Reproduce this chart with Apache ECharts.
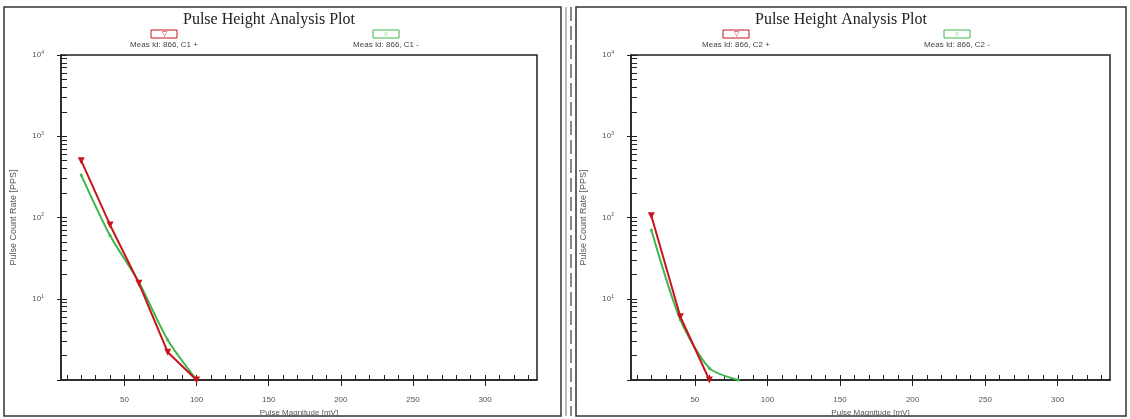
<!DOCTYPE html>
<html>
<head>
<meta charset="utf-8">
<script src="https://cdn.jsdelivr.net/npm/echarts@6/dist/echarts.min.js"></script>
<style>
  html, body { margin: 0; padding: 0; background: #fff; }
  #chart { width: 1130px; height: 419px; }
</style>
</head>
<body>
<div id="chart"></div>
<script>
// pulse magnitude bins (mV)
const xBins = [20, 40, 60, 80, 100]
// left panel, channel C1
const c1Plus = [500, 81, 15.5, 2.2, 1]
const c1Minus = [333, 60, 16, 3.1, 1]
// right panel, channel C2
const c2Plus = [105, 6, 1]
const c2Minus = [70, 5.5, 1.4, 1]

const xTickLabels = [50, 100, 150, 200, 250, 300]
const yTickLabels = [10, 100, 1000, 10000]
const yMajorTicks = [1, 10, 100, 1000, 10000]
const xMinorTicks = []
for (let v = 10; v <= 330; v += 10) xMinorTicks.push(v)
const yMinorTicks = []
for (let d = 1; d <= 1000; d *= 10) for (let k = 2; k <= 9; k++) yMinorTicks.push(k * d)

const panelTitle = 'Pulse Height Analysis Plot'
const legendNames = [
  ['Meas Id: 866, C1 +', 'Meas Id: 866, C1 -'],
  ['Meas Id: 866, C2 +', 'Meas Id: 866, C2 -']
]

const RED = '#c8141c'
const GREEN = '#3fb54a'
const X_MIN = 6, X_MAX = 336

const chart = echarts.init(document.getElementById('chart'))

function pairs(xs, ys) {
  return ys.map((y, i) => [xs[i], y])
}

const grids = [
  { left: 61, top: 55, width: 476, height: 325, outerBoundsMode: 'none', containLabel: false, show: true, borderColor: '#222', borderWidth: 1.5, backgroundColor: 'transparent' },
  { left: 631, top: 55, width: 479, height: 325, outerBoundsMode: 'none', containLabel: false, show: true, borderColor: '#222', borderWidth: 1.5, backgroundColor: 'transparent' }
]

function mainX(gi) {
  return {
    type: 'value', gridIndex: gi, min: X_MIN, max: X_MAX,
    name: 'Pulse Magnitude [mV]', nameLocation: 'middle', nameGap: 28,
    nameTextStyle: { fontSize: 8, color: '#555', fontFamily: 'Liberation Sans' },
    axisLine: { show: true, lineStyle: { color: '#222', width: 1.5 } },
    axisTick: { show: true, inside: false, length: 6, customValues: xTickLabels, lineStyle: { color: '#222' } },
    axisLabel: { fontSize: 8, color: '#555', margin: 16, customValues: xTickLabels, fontFamily: 'Liberation Sans' },
    splitLine: { show: false }
  }
}
function minorX(gi) {
  return {
    type: 'value', gridIndex: gi, min: X_MIN, max: X_MAX, position: 'bottom',
    axisLine: { show: false },
    axisTick: { show: true, inside: true, length: 5, customValues: xMinorTicks, lineStyle: { color: '#222' } },
    axisLabel: { show: false },
    splitLine: { show: false }
  }
}
function mainY(gi) {
  return {
    type: 'log', logBase: 10, gridIndex: gi, min: 1, max: 10000,
    name: 'Pulse Count Rate [PPS]', nameLocation: 'middle', nameGap: 43, nameRotate: 90,
    nameTextStyle: { fontSize: 9, color: '#555', fontFamily: 'Liberation Sans' },
    axisLine: { show: true, lineStyle: { color: '#222', width: 1.5 } },
    axisTick: { show: true, inside: false, length: 4, customValues: yMajorTicks, lineStyle: { color: '#222' } },
    axisLabel: {
      customValues: yTickLabels, margin: 17, color: '#555',
      formatter: v => '{b|10}{s|' + Math.round(Math.log10(v)) + '}',
      rich: {
        b: { fontSize: 8, color: '#555', fontFamily: 'Liberation Sans' },
        s: { fontSize: 5, color: '#555', padding: [0, 0, 5, 0], fontFamily: 'Liberation Sans' }
      }
    },
    splitLine: { show: false }
  }
}
function minorY(gi) {
  return {
    type: 'log', logBase: 10, gridIndex: gi, min: 1, max: 10000, position: 'left',
    axisLine: { show: false },
    axisTick: { show: true, inside: true, length: 6, customValues: yMinorTicks.concat(yMajorTicks), lineStyle: { color: '#222' } },
    axisLabel: { show: false },
    splitLine: { show: false }
  }
}

function line(name, data, color, xi, yi, symbol, smooth) {
  return {
    name, type: 'line', xAxisIndex: xi, yAxisIndex: yi, data,
    smooth: smooth, symbol: symbol, symbolSize: symbol === 'triangle' ? 7 : 3,
    symbolRotate: symbol === 'triangle' ? 180 : 0,
    lineStyle: { color, width: 2 }, itemStyle: { color },
    z: color === RED ? 3 : 2
  }
}

// legend boxes with label underneath, drawn as graphic elements
function legendItem(cx, label, color, glyph) {
  return [
    { type: 'rect', shape: { x: cx - 13, y: 30, width: 26, height: 8 }, style: { fill: '#fff', stroke: color, lineWidth: 1 } },
    { type: 'text', x: cx, y: 34, style: { text: glyph, fill: color, fontSize: 7, align: 'center', verticalAlign: 'middle' } },
    { type: 'text', x: cx, y: 45, style: { text: label, fill: '#444', fontSize: 8, fontFamily: 'Liberation Sans', align: 'center', verticalAlign: 'middle' } }
  ]
}

const graphics = [
  { type: 'rect', shape: { x: 4, y: 7, width: 557, height: 409 }, style: { fill: 'none', stroke: '#333', lineWidth: 1.5 } },
  { type: 'rect', shape: { x: 576, y: 7, width: 550, height: 409 }, style: { fill: 'none', stroke: '#333', lineWidth: 1.5 } },
  { type: 'line', shape: { x1: 566, y1: 7, x2: 566, y2: 416 }, style: { stroke: '#777', lineWidth: 1 } },
  { type: 'line', shape: { x1: 571, y1: 7, x2: 571, y2: 416 }, style: { stroke: '#888', lineWidth: 2, lineDash: [14, 5] } }
].concat(
  legendItem(164, legendNames[0][0], RED, '▽'),
  legendItem(386, legendNames[0][1], GREEN, '○'),
  legendItem(736, legendNames[1][0], RED, '▽'),
  legendItem(957, legendNames[1][1], GREEN, '○')
)

chart.setOption({
  animation: false,
  backgroundColor: '#fff',
  title: [
    { text: panelTitle, left: 264, top: 7, textAlign: 'center', textStyle: { fontFamily: 'Liberation Serif', fontSize: 16, fontWeight: 'normal', color: '#222' } },
    { text: panelTitle, left: 836, top: 7, textAlign: 'center', textStyle: { fontFamily: 'Liberation Serif', fontSize: 16, fontWeight: 'normal', color: '#222' } }
  ],
  grid: grids,
  xAxis: [mainX(0), minorX(0), mainX(1), minorX(1)],
  yAxis: [mainY(0), minorY(0), mainY(1), minorY(1)],
  graphic: graphics,
  series: [
    line(legendNames[0][1], pairs(xBins, c1Minus), GREEN, 0, 0, 'circle', 0.25),
    line(legendNames[0][0], pairs(xBins, c1Plus), RED, 0, 0, 'triangle', false),
    line(legendNames[1][1], pairs(xBins, c2Minus), GREEN, 2, 2, 'circle', 0.25),
    line(legendNames[1][0], pairs(xBins, c2Plus), RED, 2, 2, 'triangle', false)
  ]
})
</script>
</body>
</html>
